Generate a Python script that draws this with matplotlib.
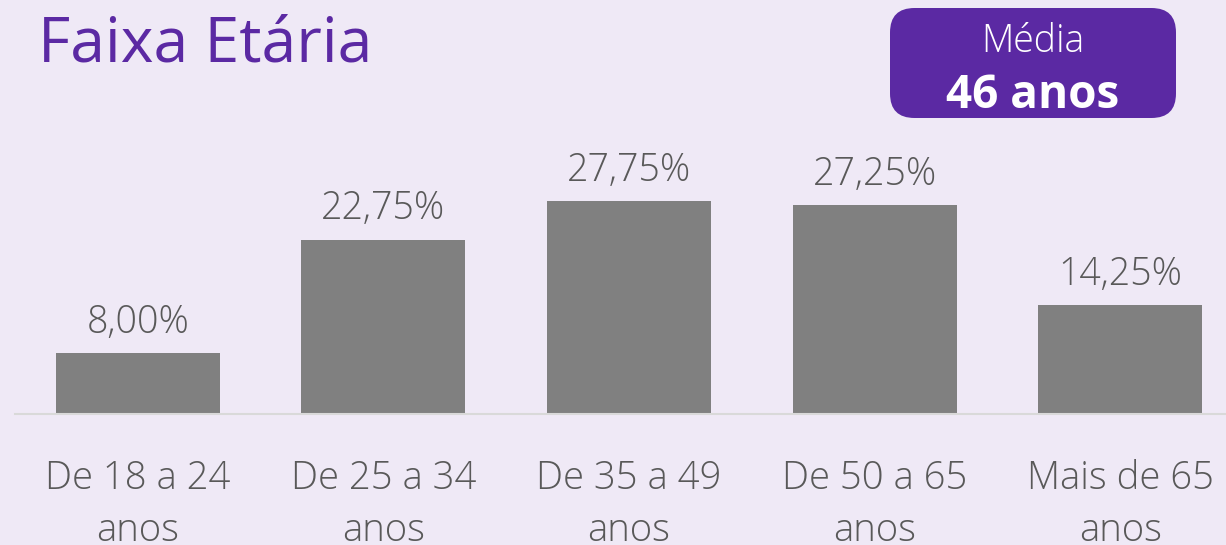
import matplotlib.pyplot as plt
from matplotlib.patches import FancyBboxPatch

# data
categorias = ['De 18 a 24\nanos', 'De 25 a 34\nanos', 'De 35 a 49\nanos',
              'De 50 a 65\nanos', 'Mais de 65\nanos']
valores = [8.00, 22.75, 27.75, 27.25, 14.25]
rotulos = ['8,00%', '22,75%', '27,75%', '27,25%', '14,25%']

fundo = '#EFE9F6'
roxo = '#5B29A3'
cinza_texto = '#595959'
fonte = ['Open Sans', 'DejaVu Sans']

fig = plt.figure(figsize=(12.26, 5.45), dpi=100, facecolor=fundo)
ax = fig.add_axes([15 / 1226, 131 / 545, 1228 / 1226, 230 / 545])
ax.set_facecolor(fundo)

x = range(len(valores))
ax.bar(x, valores, width=0.668, color='#808080', zorder=2)
ax.set_xlim(-0.5, 4.5)
ax.set_ylim(0, 30)

for xi, v, r in zip(x, valores, rotulos):
    ax.annotate(r, (xi, v), xytext=(0, 8), textcoords='offset points',
                ha='center', va='bottom', fontsize=27, color=cinza_texto,
                family=fonte, fontweight='light')

ax.set_xticks(list(x))
ax.set_xticklabels(categorias, fontsize=27.5, color=cinza_texto, family=fonte,
                   fontweight='light', linespacing=1.45)
ax.tick_params(axis='x', length=0, pad=33)
ax.set_yticks([])
for s in ['top', 'right', 'left']:
    ax.spines[s].set_visible(False)
ax.spines['bottom'].set_color('#D9D9D9')
ax.spines['bottom'].set_linewidth(1.5)

# titulo
fig.text(38 / 1226, 1 - 62 / 545, 'Faixa Etária', fontsize=45, color=roxo,
         family=fonte, ha='left', va='baseline')

# caixa da media
caixa = FancyBboxPatch((890 / 1226, 1 - 118 / 545), 286 / 1226, 110 / 545,
                       boxstyle='round,pad=0,rounding_size=0.02',
                       transform=fig.transFigure, facecolor=roxo,
                       edgecolor='none', mutation_aspect=1226 / 545)
fig.patches.append(caixa)
fig.text(1033 / 1226, 1 - 42 / 545, 'Média', fontsize=27, color='white',
         family=fonte, fontweight='light', ha='center', va='center')
fig.text(1033 / 1226, 1 - 95 / 545, '46 anos', fontsize=33, color='white',
         family=fonte, fontweight='bold', ha='center', va='center')

fig.savefig('out.png', dpi=100, facecolor=fundo)
